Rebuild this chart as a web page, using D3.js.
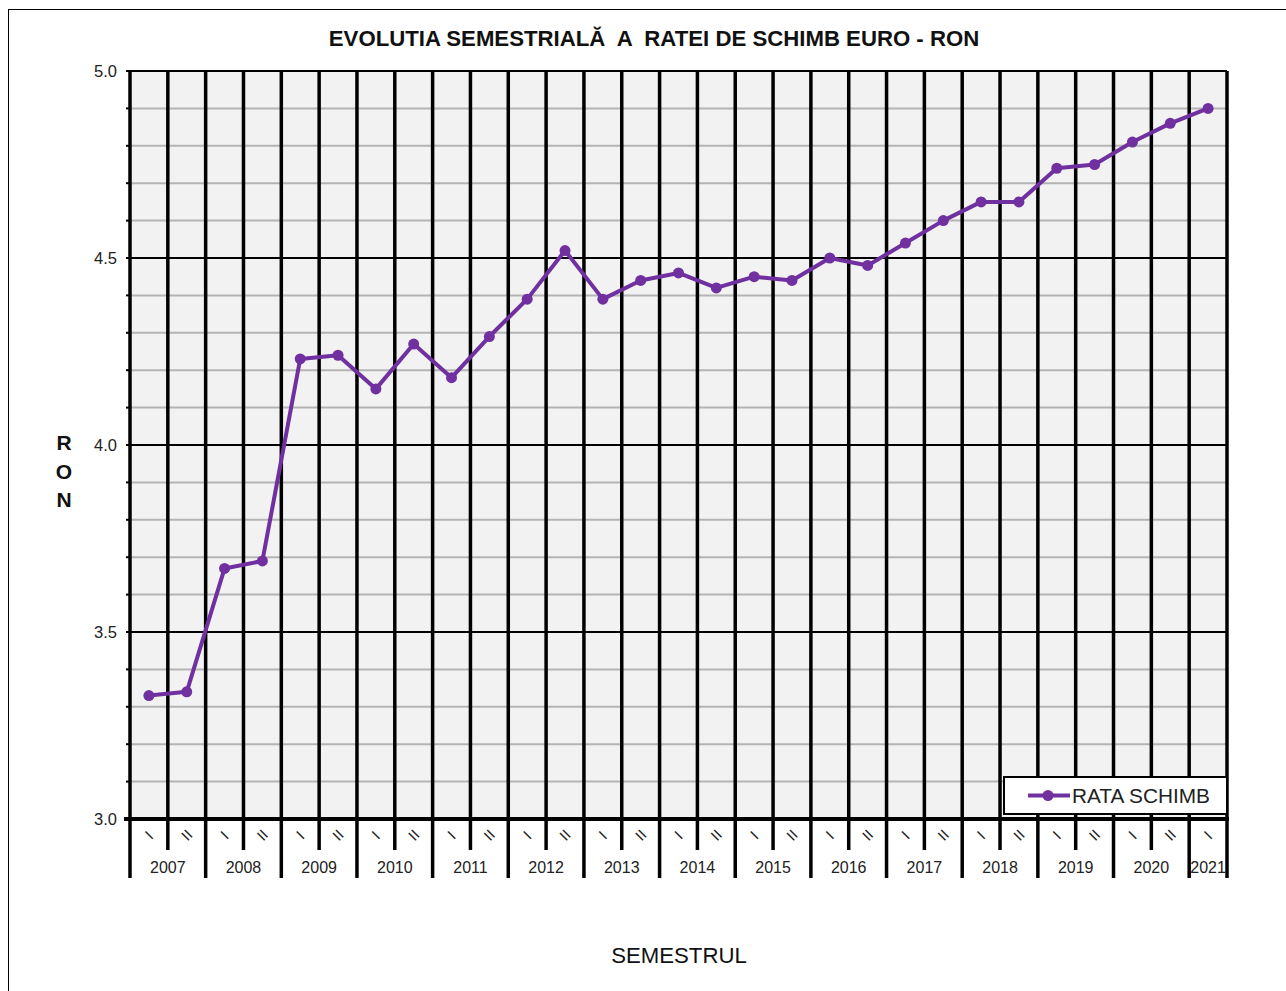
<!DOCTYPE html>
<html>
<head>
<meta charset="utf-8">
<script src="https://cdn.jsdelivr.net/npm/d3@7"></script>
<style>
  html, body { margin: 0; padding: 0; background: #ffffff; }
  svg { display: block; font-family: "Liberation Sans", Arial, sans-serif; }
</style>
</head>
<body>
<svg id="chart" width="1286" height="991"></svg>
<script>
// ---- data ----
const years = [2007, 2008, 2009, 2010, 2011, 2012, 2013, 2014, 2015, 2016, 2017, 2018, 2019, 2020, 2021];
const semesterLabels = ["I", "II"];
const categories = [];
years.forEach(y => semesterLabels.forEach(s => { if (!(y === 2021 && s === "II")) categories.push(y + "-" + s); }));
const rateValues = [3.33, 3.34, 3.67, 3.69, 4.23, 4.24, 4.15, 4.27, 4.18, 4.29,
                    4.39, 4.52, 4.39, 4.44, 4.46, 4.42, 4.45, 4.44, 4.50, 4.48,
                    4.54, 4.60, 4.65, 4.65, 4.74, 4.75, 4.81, 4.86, 4.90];
const yTicks = [3.0, 3.5, 4.0, 4.5, 5.0];
const seriesName = "RATA SCHIMB";
const titleText = "EVOLUTIA SEMESTRIALĂ  A  RATEI DE SCHIMB EURO - RON";
const xTitle = "SEMESTRUL";
const yTitle = ["R", "O", "N"];

// ---- layout ----
const svg = d3.select("#chart");
const L = 130, R = 1227, T = 71, B = 819;
const purple = "#7030a0";

const x = d3.scaleBand().domain(categories).range([L, R]).padding(0);
const y = d3.scaleLinear().domain([3, 5]).range([B, T]);

// outer frame
svg.append("rect").attr("x", 8.5).attr("y", 9.5).attr("width", 1300).attr("height", 1000)
  .attr("fill", "none").attr("stroke", "#000").attr("stroke-width", 1);

// plot background
svg.append("rect").attr("x", L).attr("y", T).attr("width", R - L).attr("height", B - T).attr("fill", "#f2f2f2");

// minor horizontal grid
const minor = d3.range(30, 51).map(v => v / 10).filter(v => Math.abs(v * 2 - Math.round(v * 2)) > 1e-6);
svg.append("g").selectAll("line").data(minor).join("line")
  .attr("x1", L).attr("x2", R).attr("y1", d => y(d)).attr("y2", d => y(d))
  .attr("stroke", "#b4b4b4").attr("stroke-width", 2);

// major horizontal grid
svg.append("g").selectAll("line").data(yTicks).join("line")
  .attr("x1", L).attr("x2", R).attr("y1", d => y(d)).attr("y2", d => y(d))
  .attr("stroke", "#000").attr("stroke-width", 2);

// vertical lines (category boundaries)
const bw = x.bandwidth();
const boundaries = categories.map(c => x(c)).concat([R]);
svg.append("g").selectAll("line").data(boundaries).join("line")
  .attr("x1", d => d).attr("x2", d => d)
  .attr("y1", T)
  .attr("y2", (d, i) => (i % 2 === 0 || i === categories.length) ? 878 : 850)
  .attr("stroke", "#000").attr("stroke-width", 3.5);

// bottom axis line
svg.append("line").attr("x1", L - 6).attr("x2", R + 2).attr("y1", B).attr("y2", B)
  .attr("stroke", "#000").attr("stroke-width", 4);

// left axis ticks (minor & major)
const allTicks = d3.range(30, 51).map(v => v / 10);
svg.append("g").selectAll("line").data(allTicks).join("line")
  .attr("x1", L - 4).attr("x2", L).attr("y1", d => y(d)).attr("y2", d => y(d))
  .attr("stroke", "#000").attr("stroke-width", 2);

// y tick labels
svg.append("g").selectAll("text").data(yTicks).join("text")
  .attr("x", 117).attr("y", d => y(d)).attr("dy", "0.35em")
  .attr("text-anchor", "end").attr("font-size", 16.5).attr("fill", "#222")
  .text(d => d.toFixed(1));

// semester labels (rotated)
svg.append("g").selectAll("text").data(categories).join("text")
  .attr("transform", c => `translate(${x(c) + bw / 2},${835}) rotate(-45)`)
  .attr("text-anchor", "middle").attr("dy", "0.35em")
  .attr("font-size", 15).attr("fill", "#222")
  .text(c => c.split("-")[1]);

// year labels
svg.append("g").selectAll("text").data(years).join("text")
  .attr("x", yr => {
    const c1 = x(yr + "-I");
    const c2 = categories.includes(yr + "-II") ? x(yr + "-II") + bw : c1 + bw;
    return (c1 + c2) / 2;
  })
  .attr("y", 867).attr("dy", "0.35em")
  .attr("text-anchor", "middle").attr("font-size", 16).attr("fill", "#222")
  .text(yr => yr);

// line series
const line = d3.line().x((d, i) => x(categories[i]) + bw / 2).y(d => y(d));
svg.append("path").datum(rateValues).attr("d", line)
  .attr("fill", "none").attr("stroke", purple).attr("stroke-width", 4).attr("stroke-linejoin", "round");
svg.append("g").selectAll("circle").data(rateValues).join("circle")
  .attr("cx", (d, i) => x(categories[i]) + bw / 2).attr("cy", d => y(d)).attr("r", 5.5)
  .attr("fill", purple);

// legend
const lg = svg.append("g");
lg.append("rect").attr("x", 1004).attr("y", 777).attr("width", 223).attr("height", 37)
  .attr("fill", "#fff").attr("stroke", "#000").attr("stroke-width", 2);
lg.append("line").attr("x1", 1028).attr("x2", 1070).attr("y1", 795.5).attr("y2", 795.5)
  .attr("stroke", purple).attr("stroke-width", 4);
lg.append("circle").attr("cx", 1048).attr("cy", 795.5).attr("r", 5.5).attr("fill", purple);
lg.append("text").attr("x", 1072).attr("y", 796).attr("dy", "0.35em")
  .attr("font-size", 20.8).attr("fill", "#222").text(seriesName);

// title
svg.append("text").attr("x", 654).attr("y", 38).attr("dy", "0.35em")
  .attr("text-anchor", "middle").attr("font-size", 22.2).attr("font-weight", "bold")
  .style("white-space", "pre").attr("fill", "#111").text(titleText);

// x title
svg.append("text").attr("x", 679).attr("y", 955).attr("dy", "0.35em")
  .attr("text-anchor", "middle").attr("font-size", 22.2).attr("fill", "#111").text(xTitle);

// y title (stacked letters)
svg.append("g").selectAll("text").data(yTitle).join("text")
  .attr("x", 64).attr("y", (d, i) => 443 + i * 28.5).attr("dy", "0.35em")
  .attr("text-anchor", "middle").attr("font-size", 21).attr("font-weight", "bold")
  .attr("fill", "#111").text(d => d);
</script>
</body>
</html>
